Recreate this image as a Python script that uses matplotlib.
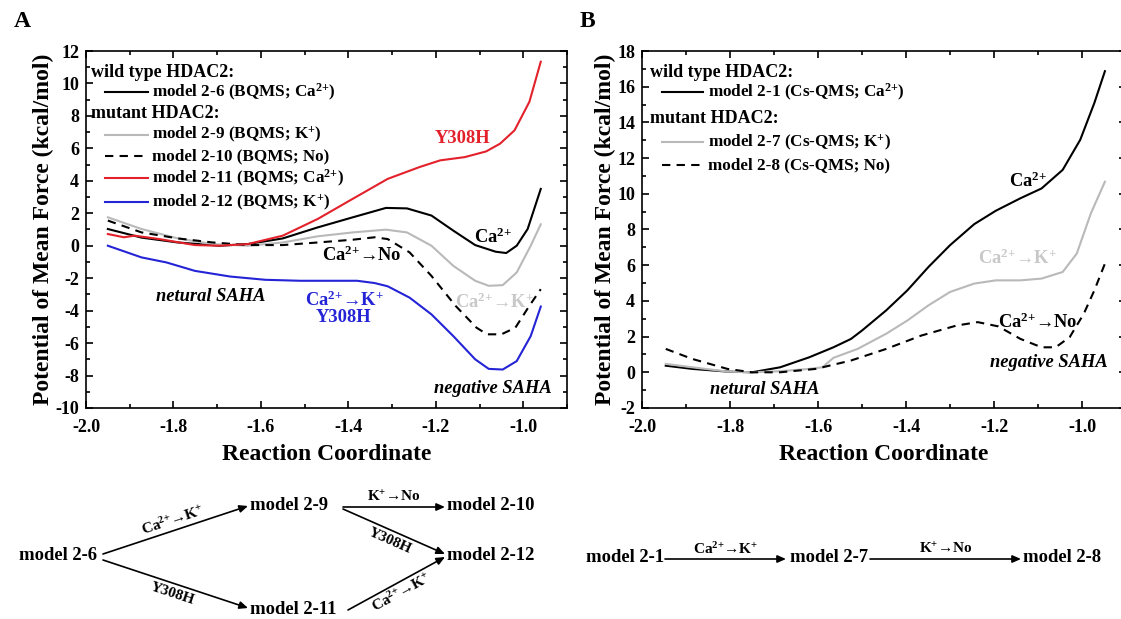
import numpy as np
import matplotlib
matplotlib.use('Agg')
import matplotlib.pyplot as plt
from matplotlib.ticker import MultipleLocator, FormatStrFormatter

plt.rcParams['font.family'] = ['Liberation Serif', 'DejaVu Serif']
plt.rcParams['font.weight'] = 'bold'
plt.rcParams['mathtext.fontset'] = 'custom'
plt.rcParams['mathtext.rm'] = 'Liberation Serif:bold'
plt.rcParams['mathtext.bf'] = 'Liberation Serif:bold'
plt.rcParams['mathtext.it'] = 'Liberation Serif:bold:italic'
plt.rcParams['mathtext.default'] = 'rm'
plt.rcParams['axes.unicode_minus'] = False

RED = '#e3212b'
BLUE = '#2424d6'
GRAY = '#b9b9b9'
LIGHT = '#c8c8c8'

CA = 'Ca$^{2{+}}$'
K = 'K$^{{+}}$'

# ---- panel A: BQMS models ----
a_26_x = [-1.95, -1.873, -1.79, -1.695, -1.63, -1.55, -1.47, -1.39, -1.314, -1.266, -1.21, -1.16,
          -1.11, -1.063, -1.039, -1.015, -0.99, -0.96]
a_26_y = [1.03, 0.5, 0.2, 0.0, 0.1, 0.45, 1.13, 1.75, 2.33, 2.3, 1.86, 0.93,
          0.04, -0.37, -0.45, 0.0, 1.03, 3.5]

a_29_x = [-1.95, -1.873, -1.79, -1.71, -1.63, -1.55, -1.47, -1.39, -1.314, -1.266, -1.21, -1.16,
          -1.11, -1.079, -1.047, -1.015, -0.983, -0.96]
a_29_y = [1.75, 1.03, 0.45, 0.1, 0.0, 0.2, 0.58, 0.82, 0.99, 0.82, 0.0, -1.24,
          -2.16, -2.47, -2.43, -1.65, 0.0, 1.32]

a_210_x = [-1.95, -1.873, -1.79, -1.71, -1.63, -1.55, -1.47, -1.39, -1.34, -1.31, -1.26, -1.21,
           -1.155, -1.107, -1.083, -1.05, -1.018, -0.986, -0.96]
a_210_y = [1.55, 0.82, 0.45, 0.2, 0.04, 0.04, 0.2, 0.37, 0.52, 0.41, -0.41, -1.86,
           -3.7, -5.05, -5.46, -5.46, -5.05, -3.7, -2.68]

a_211_x = [-1.95, -1.913, -1.889, -1.832, -1.751, -1.695, -1.63, -1.55, -1.47, -1.39, -1.31, -1.237,
           -1.19, -1.134, -1.085, -1.053, -1.02, -0.986, -0.96]
a_211_y = [0.72, 0.52, 0.62, 0.41, 0.04, 0.0, 0.1, 0.62, 1.65, 2.89, 4.12, 4.85,
           5.26, 5.46, 5.81, 6.29, 7.11, 8.87, 11.34]

a_212_x = [-1.95, -1.873, -1.816, -1.751, -1.67, -1.59, -1.51, -1.43, -1.38, -1.34, -1.31, -1.26,
           -1.21, -1.16, -1.11, -1.079, -1.047, -1.015, -0.983, -0.96]
a_212_y = [0.0, -0.72, -1.03, -1.55, -1.9, -2.1, -2.16, -2.16, -2.16, -2.3, -2.5, -3.2,
           -4.23, -5.57, -7.0, -7.59, -7.63, -7.11, -5.57, -3.75]

# ---- panel B: Cs-QMS models ----
b_21_x = [-1.946, -1.886, -1.806, -1.75, -1.686, -1.62, -1.565, -1.525, -1.5, -1.445, -1.397,
          -1.349, -1.3, -1.245, -1.196, -1.14, -1.092, -1.044, -1.004, -0.972, -0.948]
b_21_y = [0.37, 0.19, 0.04, 0.0, 0.28, 0.84, 1.4, 1.87, 2.34, 3.47, 4.59,
          5.9, 7.12, 8.3, 9.05, 9.75, 10.3, 11.34, 13.03, 15.09, 16.87]

b_27_x = [-1.946, -1.886, -1.806, -1.75, -1.686, -1.62, -1.59, -1.565, -1.51, -1.445, -1.397,
          -1.349, -1.3, -1.245, -1.196, -1.14, -1.092, -1.044, -1.012, -0.98, -0.948]
b_27_y = [0.47, 0.28, 0.04, 0.0, 0.06, 0.19, 0.28, 0.81, 1.31, 2.16, 2.9,
          3.75, 4.5, 4.97, 5.15, 5.15, 5.25, 5.62, 6.65, 8.9, 10.68]

b_28_x = [-1.946, -1.886, -1.806, -1.75, -1.686, -1.605, -1.525, -1.445, -1.365, -1.285, -1.237,
          -1.19, -1.14, -1.092, -1.06, -1.028, -0.996, -0.972, -0.948]
b_28_y = [1.31, 0.75, 0.19, 0.0, 0.0, 0.19, 0.66, 1.31, 2.06, 2.62, 2.81,
          2.57, 1.87, 1.4, 1.4, 1.97, 3.28, 4.59, 6.09]

DASH = (0, (4, 3))
LW = 1.5

fig = plt.figure(figsize=(11.21, 6.19), dpi=100)
axA = fig.add_axes([0.0767, 0.3409, 0.4291, 0.5767])
axB = fig.add_axes([0.5727, 0.3409, 0.4318, 0.5767])


def style_axes(ax, ylo, yhi):
    ax.set_xlim(-2.0, -0.9)
    ax.set_ylim(ylo, yhi)
    ax.xaxis.set_major_locator(MultipleLocator(0.2))
    ax.xaxis.set_minor_locator(MultipleLocator(0.1))
    ax.yaxis.set_major_locator(MultipleLocator(2))
    ax.yaxis.set_minor_locator(MultipleLocator(1))
    ax.xaxis.set_major_formatter(FormatStrFormatter('%.1f'))
    ax.tick_params(which='both', direction='in', top=True, right=True, width=1.2, labelsize=13)
    ax.tick_params(which='major', length=5)
    ax.tick_params(which='minor', length=3)
    ax.tick_params(axis='x', pad=8)
    ax.tick_params(axis='y', pad=5)
    for s in ax.spines.values():
        s.set_linewidth(1.2)
    ax.set_xlabel('Reaction Coordinate', fontsize=17, fontweight='bold', labelpad=6)
    ax.set_ylabel('Potential of Mean Force (kcal/mol)', fontsize=17, fontweight='bold', labelpad=1)


def legend_block(ax, x_head, x_line0, x_line1, x_text, rows, fs=12.3):
    for kind, y, label, kw in rows:
        if kind == 'head':
            ax.text(x_head, y, label, fontsize=13, fontweight='bold', va='center')
        else:
            ax.plot([x_line0, x_line1], [y, y], **kw)
            ax.text(x_text, y, label, fontsize=fs, fontweight='bold', va='center')


# panel A
style_axes(axA, -10, 12)
axA.plot(a_26_x, a_26_y, color='black', lw=LW)
axA.plot(a_29_x, a_29_y, color=GRAY, lw=LW)
axA.plot(a_210_x, a_210_y, color='black', lw=LW, linestyle=DASH)
axA.plot(a_211_x, a_211_y, color=RED, lw=LW)
axA.plot(a_212_x, a_212_y, color=BLUE, lw=LW)

legend_block(axA, -1.988, -1.957, -1.858, -1.849, [
    ('head', 10.7, 'wild type HDAC2:', None),
    ('line', 9.45, f'model 2-6 (BQMS; {CA})', dict(color='black', lw=LW)),
    ('head', 8.15, 'mutant HDAC2:', None),
    ('line', 6.85, f'model 2-9 (BQMS; {K})', dict(color=GRAY, lw=LW)),
    ('line', 5.5, 'model 2-10 (BQMS; No)', dict(color='black', lw=LW, linestyle=DASH)),
    ('line', 4.15, f'model 2-11 (BQMS; {CA})', dict(color=RED, lw=LW)),
    ('line', 2.7, f'model 2-12 (BQMS; {K})', dict(color=BLUE, lw=LW)),
])

ann = dict(fontsize=13.3, fontweight='bold', ha='center', va='center')
axA.text(-1.14, 6.6, 'Y308H', color=RED, **ann)
axA.text(-1.07, 0.5, CA, color='black', **ann)
axA.text(-1.37, -0.6, f'{CA}→No', color='black', **ann)
axA.text(-1.41, -3.35, f'{CA}→{K}', color=BLUE, **ann)
axA.text(-1.41, -4.45, 'Y308H', color=BLUE, **ann)
axA.text(-1.067, -3.5, f'{CA}→{K}', color=LIGHT, **ann)
axA.text(-1.715, -3.1, 'netural SAHA', style='italic', **ann)
axA.text(-1.07, -8.8, 'negative SAHA', style='italic', **ann)

# panel B
style_axes(axB, -2, 18)
axB.plot(b_21_x, b_21_y, color='black', lw=LW)
axB.plot(b_27_x, b_27_y, color=GRAY, lw=LW)
axB.plot(b_28_x, b_28_y, color='black', lw=LW, linestyle=DASH)

legend_block(axB, -1.982, -1.954, -1.862, -1.85, [
    ('head', 16.8, 'wild type HDAC2:', None),
    ('line', 15.7, f'model 2-1 (Cs-QMS; {CA})', dict(color='black', lw=LW)),
    ('head', 14.2, 'mutant HDAC2:', None),
    ('line', 12.9, f'model 2-7 (Cs-QMS; {K})', dict(color=GRAY, lw=LW)),
    ('line', 11.6, 'model 2-8 (Cs-QMS; No)', dict(color='black', lw=LW, linestyle=DASH)),
])

axB.text(-1.124, 10.7, CA, color='black', **ann)
axB.text(-1.148, 6.4, f'{CA}→{K}', color=LIGHT, **ann)
axB.text(-1.1, 2.8, f'{CA}→No', color='black', **ann)
axB.text(-1.076, 0.56, 'negative SAHA', style='italic', **ann)
axB.text(-1.72, -0.94, 'netural SAHA', style='italic', **ann)

fig.text(0.012, 0.965, 'A', fontsize=17, fontweight='bold', va='center')
fig.text(0.517, 0.965, 'B', fontsize=17, fontweight='bold', va='center')

# ---- reaction schemes drawn in pixel space ----
sch = fig.add_axes([0, 0, 1, 1], zorder=-1)
sch.set_xlim(0, 1121)
sch.set_ylim(619, 0)
sch.axis('off')

node_fs = 13.4
nodes = [
    ('model 2-6', 58, 556, 'center'),
    ('model 2-9', 250, 505, 'left'),
    ('model 2-11', 250, 609, 'left'),
    ('model 2-10', 447, 506, 'left'),
    ('model 2-12', 447, 555, 'left'),
    ('model 2-1', 586, 557, 'left'),
    ('model 2-7', 790, 557, 'left'),
    ('model 2-8', 1023, 557, 'left'),
]
for name, x, y, ha in nodes:
    sch.text(x, y, name, fontsize=node_fs, fontweight='bold', ha=ha, va='center')

# (start, end, label, label side: +1 above / -1 below the arrow)
edges = [
    ((103, 554), (248, 506), f'{CA}→{K}', 1),
    ((103, 560), (248, 608), 'Y308H', -1),
    ((343, 507), (445, 507), f'{K}→No', 1),
    ((343, 509), (445, 554), 'Y308H', -1),
    ((348, 610), (445, 557), f'{CA}→{K}', -1),
    ((665, 559), (786, 559), f'{CA}→{K}', 1),
    ((870, 559), (1021, 559), f'{K}→No', 1),
]
for (x0, y0), (x1, y1), lab, side in edges:
    sch.annotate('', xy=(x1, y1), xytext=(x0, y0),
                 arrowprops=dict(arrowstyle='-|>,head_length=0.5,head_width=0.22',
                                 color='black', lw=1.2, shrinkA=0, shrinkB=0))
    ang = np.degrees(np.arctan2(-(y1 - y0), x1 - x0))
    mx, my = (x0 + x1) / 2, (y0 + y1) / 2
    nx, ny = np.sin(np.radians(ang)), np.cos(np.radians(ang))
    off = 10
    sch.text(mx - side * off * nx, my - side * off * ny, lab, fontsize=11, fontweight='bold',
             rotation=ang, rotation_mode='anchor', ha='center', va='center')

fig.savefig('out.png', dpi=100)
